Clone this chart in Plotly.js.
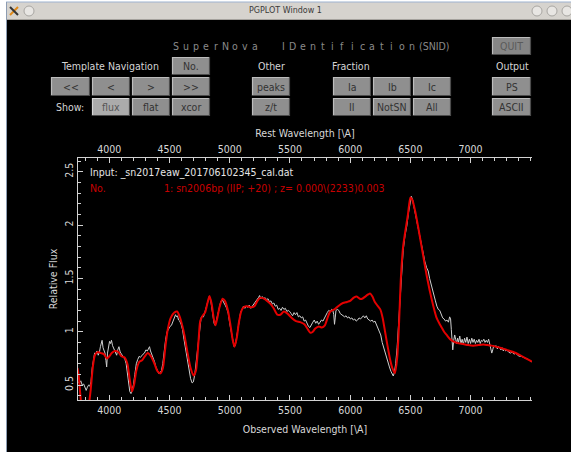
<!DOCTYPE html>
<html>
<head>
<meta charset="utf-8">
<script src="https://cdn.plot.ly/plotly-3.0.1.min.js"></script>
<style>
  html, body { margin: 0; padding: 0; background: #ffffff; }
  #plot { width: 571px; height: 452px; }
</style>
</head>
<body>
<div id="plot"></div>
<script>
// Observed spectrum (sn2017eaw), wavelength in Angstrom and relative flux
const obsWave = [3741,3752,3763,3775,3787,3798,3808,3818,3828,3838,3848,3858,3868,3878,3888,3898,3908,3918,3926,3934,3940,3948,3956,3964,3972,3978,3985,3993,4002,4010,4018,4027,4036,4045,4053,4061,4070,4080,4090,4100,4110,4120,4130,4140,4150,4160,4170,4180,4190,4200,4212,4224,4236,4248,4258,4268,4280,4292,4304,4316,4326,4334,4342,4352,4364,4375,4387,4398,4410,4421,4432,4444,4456,4468,4480,4492,4504,4516,4528,4540,4550,4558,4566,4575,4585,4596,4608,4620,4632,4645,4660,4675,4688,4698,4710,4725,4740,4752,4762,4772,4782,4795,4808,4820,4830,4840,4850,4860,4870,4880,4890,4900,4912,4925,4938,4950,4962,4975,4988,5000,5012,5024,5036,5046,5056,5066,5078,5090,5102,5114,5126,5138,5150,5162,5175,5188,5200,5212,5225,5238,5248,5258,5270,5282,5294,5306,5318,5330,5342,5354,5366,5378,5390,5402,5414,5426,5438,5450,5462,5474,5486,5498,5510,5522,5534,5546,5558,5570,5582,5594,5606,5618,5630,5642,5654,5666,5678,5690,5702,5714,5726,5738,5750,5762,5774,5786,5798,5810,5822,5834,5846,5856,5864,5870,5876,5882,5894,5906,5918,5930,5942,5954,5966,5978,5990,6002,6014,6026,6038,6050,6062,6074,6086,6098,6110,6122,6134,6146,6158,6170,6182,6194,6206,6218,6230,6242,6254,6266,6278,6290,6302,6314,6326,6338,6348,6358,6368,6378,6390,6402,6414,6426,6440,6455,6470,6485,6498,6508,6518,6530,6545,6560,6575,6590,6605,6620,6635,6648,6660,6672,6684,6696,6708,6720,6732,6744,6756,6768,6780,6792,6804,6816,6826,6834,6840,6846,6852,6860,6868,6876,6884,6892,6900,6910,6920,6930,6940,6950,6960,6970,6980,6990,7000,7010,7020,7030,7040,7050,7060,7070,7080,7090,7100,7110,7120,7130,7140,7150,7160,7168,7176,7184,7192,7202,7212,7222,7232,7242,7252,7262,7272,7282,7292,7302,7315,7330,7345,7360,7375,7390,7405,7420,7440,7460,7480,7500,7510];
const obsFlux = [0.53,0.52,0.54,0.50,0.51,0.47,0.45,0.48,0.50,0.49,0.53,0.66,0.76,0.80,0.79,0.82,0.78,0.81,0.86,0.90,0.92,0.85,0.83,0.80,0.73,0.67,0.80,0.88,0.91,0.89,0.92,0.87,0.85,0.83,0.80,0.78,0.83,0.86,0.81,0.79,0.77,0.76,0.74,0.70,0.62,0.52,0.44,0.42,0.45,0.50,0.60,0.70,0.74,0.77,0.76,0.78,0.79,0.80,0.83,0.82,0.85,0.86,0.82,0.79,0.76,0.72,0.67,0.63,0.61,0.62,0.63,0.70,0.83,0.93,1.00,1.03,1.05,1.06,1.10,1.13,1.16,1.14,1.15,1.11,1.10,1.07,1.02,0.93,0.85,0.74,0.63,0.56,0.52,0.53,0.60,0.75,0.95,1.08,1.13,1.15,1.14,1.19,1.25,1.30,1.33,1.31,1.24,1.15,1.08,1.06,1.11,1.17,1.24,1.28,1.30,1.28,1.25,1.22,1.17,1.08,1.00,0.92,0.86,0.87,0.94,1.04,1.12,1.18,1.21,1.24,1.22,1.24,1.23,1.25,1.22,1.24,1.25,1.27,1.30,1.32,1.34,1.31,1.33,1.31,1.32,1.30,1.31,1.28,1.29,1.26,1.27,1.24,1.25,1.21,1.22,1.20,1.23,1.21,1.22,1.19,1.20,1.19,1.17,1.15,1.18,1.16,1.18,1.14,1.15,1.13,1.14,1.10,1.11,1.07,1.05,1.04,1.07,1.09,1.11,1.08,1.10,1.07,1.09,1.11,1.10,1.13,1.15,1.18,1.20,1.19,1.21,1.20,1.16,1.07,1.13,1.20,1.21,1.20,1.17,1.16,1.15,1.14,1.15,1.13,1.14,1.12,1.13,1.11,1.12,1.10,1.11,1.13,1.12,1.14,1.15,1.13,1.15,1.12,1.11,1.10,1.11,1.09,1.10,1.07,1.04,1.01,0.97,0.90,0.85,0.80,0.75,0.71,0.67,0.63,0.60,0.585,0.62,0.70,0.85,1.05,1.30,1.55,1.76,1.90,1.99,2.12,2.22,2.27,2.24,2.17,2.08,2.01,1.93,1.82,1.73,1.66,1.60,1.57,1.50,1.44,1.39,1.33,1.29,1.24,1.21,1.20,1.16,1.13,1.12,1.10,1.11,1.09,1.14,1.12,1.02,0.86,0.83,0.92,0.97,0.93,0.89,0.94,0.90,0.96,0.89,0.93,0.88,0.94,0.90,0.95,0.89,0.93,0.89,0.94,0.90,0.93,0.89,0.92,0.90,0.93,0.89,0.92,0.91,0.93,0.90,0.92,0.90,0.93,0.88,0.82,0.80,0.83,0.87,0.86,0.87,0.84,0.86,0.85,0.83,0.85,0.82,0.84,0.82,0.83,0.81,0.80,0.81,0.79,0.80,0.78,0.77,0.77,0.76,0.75,0.74,0.72,0.72];

// Best-match template: sn2006bp (IIP, +20 d)
const tplWave = [3735,3745,3760,3775,3800,3825,3845,3862,3880,3905,3930,3955,3980,4000,4020,4045,4075,4100,4125,4150,4170,4188,4205,4225,4250,4270,4295,4320,4345,4375,4400,4425,4445,4465,4485,4510,4540,4563,4585,4605,4625,4650,4675,4700,4720,4740,4755,4775,4795,4815,4832,4850,4868,4882,4895,4915,4940,4960,4985,5005,5025,5040,5058,5075,5095,5115,5145,5175,5205,5230,5255,5285,5310,5340,5365,5395,5420,5450,5480,5515,5550,5585,5620,5650,5670,5690,5710,5740,5765,5790,5815,5835,5870,5900,5940,5975,6000,6030,6055,6080,6100,6125,6150,6165,6185,6205,6230,6250,6270,6290,6310,6330,6350,6372,6390,6405,6420,6440,6463,6480,6500,6515,6540,6565,6590,6607,6635,6660,6676,6700,6718,6740,6760,6780,6801,6830,6856,6890,6939,6980,7022,7065,7105,7140,7174,7210,7245,7300,7355,7410,7460,7510];
const tplFlux = [0.66,0.60,0.40,0.25,0.20,0.28,0.45,0.66,0.78,0.81,0.80,0.79,0.75,0.77,0.80,0.82,0.81,0.77,0.76,0.70,0.55,0.44,0.50,0.64,0.72,0.73,0.77,0.80,0.77,0.70,0.63,0.61,0.66,0.85,1.02,1.13,1.18,1.19,1.14,1.06,0.96,0.80,0.66,0.59,0.64,0.90,1.10,1.15,1.18,1.27,1.335,1.26,1.12,1.06,1.12,1.23,1.31,1.29,1.20,1.07,0.92,0.86,0.94,1.08,1.19,1.23,1.24,1.23,1.24,1.29,1.32,1.31,1.29,1.26,1.22,1.16,1.16,1.19,1.17,1.13,1.10,1.09,1.07,1.02,0.99,1.00,1.03,1.05,1.04,1.06,1.14,1.19,1.21,1.24,1.27,1.28,1.29,1.32,1.33,1.31,1.31,1.33,1.35,1.36,1.33,1.28,1.24,1.21,1.13,1.00,0.87,0.75,0.66,0.61,0.75,1.05,1.48,1.80,1.98,2.10,2.26,2.24,2.13,1.98,1.82,1.71,1.53,1.39,1.31,1.20,1.13,1.08,1.04,1.00,0.97,0.93,0.91,0.895,0.885,0.875,0.87,0.875,0.88,0.875,0.87,0.86,0.85,0.83,0.81,0.78,0.75,0.72];

const xTickVals = [4000, 4500, 5000, 5500, 6000, 6500, 7000];
const yTickVals = [0.5, 1, 1.5, 2, 2.5];

const inputLine = 'Input: _sn2017eaw_201706102345_cal.dat';
const matchLabel = 'No.';
const matchLine = '1: sn2006bp (IIP; +20) ; z= 0.000\\(2233)0.003';

// Control panel: [label, left, right, top, bottom, pressed]
const buttons = [
  ['QUIT', 492, 531, 37, 55, false],
  ['No.', 172, 210, 57, 75, false],
  ['<<', 51, 90, 77, 96, false],
  ['<', 92, 130, 77, 96, false],
  ['>', 132, 170, 77, 96, false],
  ['>>', 172, 210, 77, 96, false],
  ['flux', 92, 130, 98, 116, true],
  ['flat', 132, 170, 98, 116, false],
  ['xcor', 172, 210, 98, 116, false],
  ['peaks', 252, 290, 77, 96, false],
  ['z/t', 252, 290, 98, 116, false],
  ['Ia', 333, 371, 77, 96, false],
  ['Ib', 373, 411, 77, 96, false],
  ['Ic', 413, 451, 77, 96, false],
  ['II', 333, 371, 98, 116, false],
  ['NotSN', 373, 411, 98, 116, false],
  ['All', 413, 451, 98, 116, false],
  ['PS', 492, 531, 77, 96, false],
  ['ASCII', 492, 531, 98, 116, false]
];
// Panel captions: [text, x, y, anchor]
const captions = [
  ['Template Navigation', 110, 66, 'center'],
  ['Other', 271, 66, 'center'],
  ['Fraction', 351, 66, 'center'],
  ['Output', 512, 66, 'center'],
  ['Show:', 70, 107, 'center']
];
// Letter-spaced banner: [word, x of first letter, letter pitch]
const bannerWords = [['SuperNova', 176, 9.9], ['IDentification', 283, 9.9]];
const bannerTail = '(SNID)';

const W = 571, H = 452;
const M = {l: 78, r: 39, t: 158, b: 52};
const PW = W - M.l - M.r, PH = H - M.t - M.b;
// pixel position -> paper fraction for the frame decorations
const X = px => (px - M.l) / PW;
const Y = py => (H - M.b - py) / PH;

const F = "'Liberation Sans Narrow', 'Arial Narrow', 'DejaVu Sans Condensed', sans-serif";
const AX = '#d2d2d2';

const shapes = [];
const annotations = [];
const note = (text, x, y, anchor, size, color, family) => annotations.push({
  text: text, xref: 'paper', yref: 'paper', x: X(x), y: Y(y), xanchor: anchor, yanchor: 'middle',
  showarrow: false, borderpad: 0, font: {family: family || F, size: size, color: color}
});

// window frame and title bar
shapes.push({type: 'rect', xref: 'paper', yref: 'paper', x0: X(0), x1: X(6), y0: Y(452), y1: Y(0), fillcolor: '#ffffff', line: {width: 0}, layer: 'above'});
shapes.push({type: 'rect', xref: 'paper', yref: 'paper', x0: X(0), x1: X(571), y0: Y(2), y1: Y(0), fillcolor: '#ffffff', line: {width: 0}, layer: 'above'});
shapes.push({type: 'rect', xref: 'paper', yref: 'paper', x0: X(6), x1: X(571), y0: Y(20), y1: Y(2), fillcolor: '#d6d3ce', line: {width: 0}, layer: 'above'});
shapes.push({type: 'line', xref: 'paper', yref: 'paper', x0: X(6), x1: X(571), y0: Y(2), y1: Y(2), line: {color: '#9db2cf', width: 1}, layer: 'above'});
shapes.push({type: 'line', xref: 'paper', yref: 'paper', x0: X(6), x1: X(571), y0: Y(19.5), y1: Y(19.5), line: {color: '#a5a29d', width: 1}, layer: 'above'});
shapes.push({type: 'line', xref: 'paper', yref: 'paper', x0: X(6.5), x1: X(6.5), y0: Y(452), y1: Y(2), line: {color: '#8c9cb2', width: 1}, layer: 'above'});
// title bar icons
shapes.push({type: 'line', xref: 'paper', yref: 'paper', x0: X(10), x1: X(18), y0: Y(15), y1: Y(7), line: {color: '#e08a1a', width: 2}, layer: 'above'});
shapes.push({type: 'line', xref: 'paper', yref: 'paper', x0: X(10), x1: X(18), y0: Y(7), y1: Y(15), line: {color: '#333333', width: 2}, layer: 'above'});
[29, 537, 552, 567].forEach(cx => {
  shapes.push({type: 'circle', xref: 'paper', yref: 'paper', x0: X(cx - 5), x1: X(cx + 5), y0: Y(16), y1: Y(6), fillcolor: '#e8e6e3', line: {color: '#a8a6a2', width: 1}, layer: 'above'});
});
note('PGPLOT Window 1', 285, 11, 'center', 8, '#3a3a3a', 'DejaVu Sans');

// application banner, one letter at a time
bannerWords.forEach(([word, x0, pitch]) => {
  Array.from(word).forEach((ch, i) => note(ch, x0 + i * pitch, 46, 'center', 10.5, '#8a8a8a'));
});
note(bannerTail, 418, 46, 'left', 10.5, '#8a8a8a');

captions.forEach(([t, x, y, a]) => note(t, x, y, a, 10.5, '#d4d4d4'));

buttons.forEach(([t, x0, x1, y0, y1, pressed]) => {
  const face = t === 'QUIT' ? '#868686' : (pressed ? '#ababab' : '#8f8f8f');
  shapes.push({type: 'rect', xref: 'paper', yref: 'paper', x0: X(x0), x1: X(x1), y0: Y(y1), y1: Y(y0), fillcolor: face, line: {width: 0}, layer: 'above'});
  shapes.push({type: 'path', xref: 'paper', yref: 'paper', path: `M${X(x0 + 0.5)},${Y(y1)} L${X(x0 + 0.5)},${Y(y0 + 0.5)} L${X(x1)},${Y(y0 + 0.5)}`, line: {color: pressed ? '#d6d6d6' : '#bdbdbd', width: 1.2}, layer: 'above'});
  shapes.push({type: 'path', xref: 'paper', yref: 'paper', path: `M${X(x1 - 0.5)},${Y(y0)} L${X(x1 - 0.5)},${Y(y1 - 0.5)} L${X(x0)},${Y(y1 - 0.5)}`, line: {color: '#4c4c4c', width: 1.2}, layer: 'above'});
  note(t, (x0 + x1) / 2, (y0 + y1) / 2, 'center', 10.5, t === 'QUIT' ? '#5a5a5a' : (pressed ? '#555555' : '#333333'));
});

// fit information inside the frame
note(inputLine, 89, 172, 'left', 10.5, '#e6e6e6');
note(matchLabel, 89, 188, 'left', 10.5, '#c80000');
note(matchLine, 163, 188, 'left', 10.5, '#c80000');

const tickFont = {family: F, size: 10.5, color: '#d8d8d8'};
const xCommon = {
  range: [3740, 7510], tickvals: xTickVals, ticks: 'inside', ticklen: 5, tickwidth: 1, tickcolor: AX,
  minor: {dtick: 100, tick0: 0, ticks: 'inside', ticklen: 3, tickcolor: AX, tickwidth: 1, showgrid: false},
  showline: true, linecolor: AX, linewidth: 1, showgrid: false, zeroline: false, tickfont: tickFont
};
const yCommon = {
  range: [0.36, 2.63], tickvals: yTickVals, ticks: 'inside', ticklen: 5, tickwidth: 1, tickcolor: AX,
  minor: {dtick: 0.1, tick0: 0, ticks: 'inside', ticklen: 3, tickcolor: AX, tickwidth: 1, showgrid: false},
  showline: true, linecolor: AX, linewidth: 1, showgrid: false, zeroline: false, tickfont: tickFont
};

const traces = [
  {x: obsWave, y: obsFlux, type: 'scatter', mode: 'lines', line: {color: '#cfcfcf', width: 1}, hoverinfo: 'skip', xaxis: 'x', yaxis: 'y'},
  {x: tplWave, y: tplFlux, type: 'scatter', mode: 'lines', line: {color: '#e40000', width: 2, shape: 'spline', smoothing: 0.6}, hoverinfo: 'skip', xaxis: 'x2', yaxis: 'y'}
];

const layout = {
  width: W, height: H, margin: M,
  paper_bgcolor: '#000000', plot_bgcolor: '#000000',
  showlegend: false,
  xaxis: Object.assign({}, xCommon, {side: 'bottom', anchor: 'y',
    title: {text: 'Observed Wavelength [\\A]', font: {family: F, size: 10.5, color: '#d8d8d8'}, standoff: 11}}),
  xaxis2: Object.assign({}, xCommon, {side: 'top', overlaying: 'x', matches: 'x', anchor: 'y',
    title: {text: 'Rest Wavelength [\\A]', font: {family: F, size: 10.5, color: '#d8d8d8'}, standoff: 3}}),
  yaxis: Object.assign({}, yCommon, {side: 'left', tickangle: -90,
    title: {text: 'Relative Flux', font: {family: F, size: 10.5, color: '#d8d8d8'}, standoff: 3}}),
  yaxis2: Object.assign({}, yCommon, {side: 'right', overlaying: 'y', matches: 'y', anchor: 'x', showticklabels: false}),
  shapes: shapes,
  annotations: annotations
};

Plotly.newPlot('plot', traces, layout, {staticPlot: true, displayModeBar: false});
</script>
</body>
</html>
